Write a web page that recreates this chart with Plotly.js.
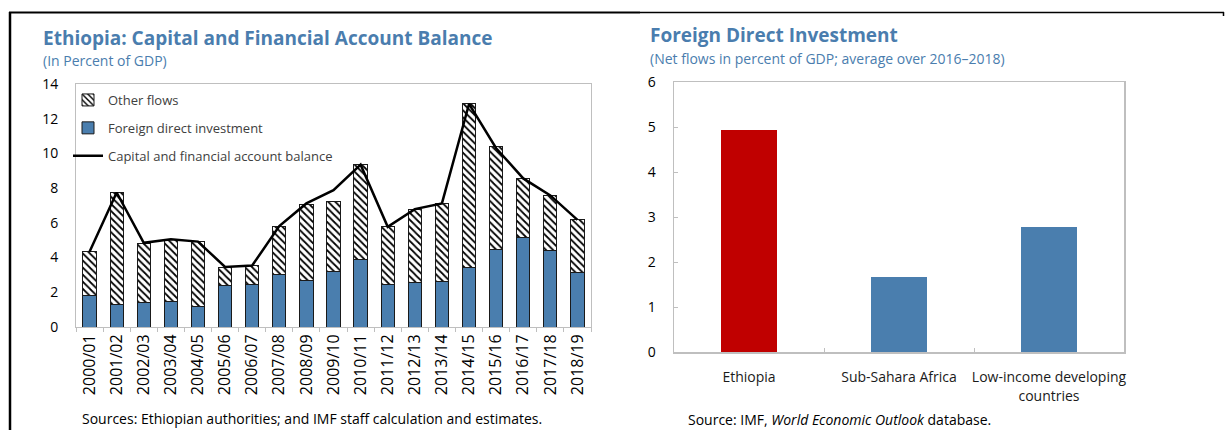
<!DOCTYPE html>
<html>
<head>
<meta charset="utf-8">
<script src="https://cdn.plot.ly/plotly-3.0.1.min.js"></script>
<style>
html,body{margin:0;padding:0;background:#fff;}
#chart{width:1225px;height:430px;}
</style>
</head>
<body>
<div id="chart"></div>
<script>
// ---- Left chart data ----
var years = ["2000/01","2001/02","2002/03","2003/04","2004/05","2005/06","2006/07","2007/08","2008/09","2009/10","2010/11","2011/12","2012/13","2013/14","2014/15","2015/16","2016/17","2017/18","2018/19"];
var fdi = [1.83,1.27,1.40,1.48,1.19,2.38,2.44,3.00,2.67,3.17,3.87,2.46,2.58,2.63,3.42,4.46,5.17,4.42,3.15];
var otherFlows = [2.50,6.48,3.43,3.54,3.71,1.06,1.08,2.81,4.41,4.08,5.50,3.31,4.21,4.47,9.43,5.94,3.39,3.16,3.02];
var balance = [4.33,7.75,4.85,5.06,4.92,3.46,3.54,5.81,7.12,7.88,9.35,5.77,6.79,7.12,12.85,10.30,8.56,7.58,6.17];

// ---- Right chart data ----
var regions = ["Ethiopia","Sub-Sahara Africa","Low-income developing<br>countries"];
var fdiAvg = [4.93,1.66,2.78];

var W = 1225, H = 430;
function px(x){return x/W;}
function py(y){return 1-y/H;}

var FONT = "Open Sans, Noto Sans, sans-serif";
var BLUE = "#4A7EAE";
var TITLE = "#4A7DAE";
var GRAYLINE = "#BFBFBF";

var traces = [
  {type:"bar", x:years, y:fdi, name:"Foreign direct investment", xaxis:"x", yaxis:"y",
   marker:{color:BLUE, line:{color:"#1a1a1a", width:1}}, legendgroup:"b", legendrank:2, width:0.49, hoverinfo:"y"},
  {type:"bar", x:years, y:otherFlows, name:"Other flows", xaxis:"x", yaxis:"y",
   marker:{color:"#ffffff", line:{color:"#1a1a1a", width:1},
           pattern:{shape:"\\", fgcolor:"#000000", bgcolor:"#ffffff", size:5, solidity:0.35}},
   legendgroup:"a", legendrank:1, width:0.49, hoverinfo:"y"},
  {type:"scatter", mode:"lines", x:years, y:balance, name:"Capital and financial account balance",
   xaxis:"x", yaxis:"y", line:{color:"#000000", width:2.5}, legendgroup:"c", legendrank:3},
  {type:"bar", x:regions, y:fdiAvg, xaxis:"x2", yaxis:"y2", showlegend:false, width:0.373,
   marker:{color:["#C00000", BLUE, BLUE]}}
];

var layout = {
  width:W, height:H,
  margin:{l:0,r:0,t:0,b:0},
  paper_bgcolor:"#ffffff", plot_bgcolor:"#ffffff",
  font:{family:FONT, size:14, color:"#000000"},
  barmode:"stack",
  bargap:0.5,
  showlegend:true,
  legend:{x:px(68), y:py(85), xanchor:"left", yanchor:"top", traceorder:"grouped",
          tracegroupgap:8, font:{size:13, color:"#404040", family:FONT}, bgcolor:"rgba(0,0,0,0)"},
  xaxis:{domain:[px(76), px(591)], anchor:"y", type:"category", tickangle:-90,
         showline:true, linecolor:GRAYLINE, linewidth:1, mirror:true,
         ticks:"outside", tickson:"boundaries", ticklen:4, tickcolor:GRAYLINE,
         tickfont:{size:16, color:"#000"}, showgrid:false, zeroline:false, fixedrange:true},
  yaxis:{domain:[py(327), py(84)], anchor:"x", range:[0,14], dtick:2,
         showline:true, linecolor:GRAYLINE, linewidth:1, mirror:true,
         ticks:"", showgrid:false, zeroline:false, ticklabelstandoff:14,
         tickfont:{size:14, color:"#000"}, fixedrange:true},
  xaxis2:{domain:[px(674), px(1124)], anchor:"y2", type:"category", tickangle:0,
          showline:true, linecolor:GRAYLINE, linewidth:1.5, mirror:true,
          ticks:"inside", tickson:"boundaries", ticklen:4, tickcolor:GRAYLINE,
          ticklabelstandoff:12,
          tickfont:{size:14, color:"#1a1a1a"}, showgrid:false, zeroline:false, fixedrange:true},
  yaxis2:{domain:[py(352), py(82)], anchor:"x2", range:[0,6], dtick:1,
          showline:true, linecolor:GRAYLINE, linewidth:1.5, mirror:true,
          ticks:"inside", ticklen:4, tickcolor:GRAYLINE, showgrid:false, zeroline:false,
          ticklabelstandoff:14, tickfont:{size:14, color:"#000"}, fixedrange:true},
  annotations:[
    {xref:"paper", yref:"paper", x:px(41), y:py(38), xanchor:"left", yanchor:"middle", showarrow:false,
     text:"<b>Ethiopia: Capital and Financial Account Balance</b>", font:{size:19, color:TITLE, family:FONT}},
    {xref:"paper", yref:"paper", x:px(41), y:py(61), xanchor:"left", yanchor:"middle", showarrow:false,
     text:"(In Percent of GDP)", font:{size:14, color:TITLE, family:FONT}},
    {xref:"paper", yref:"paper", x:px(80), y:py(418), xanchor:"left", yanchor:"middle", showarrow:false,
     text:"Sources: Ethiopian authorities; and IMF staff calculation and estimates.", font:{size:14, color:"#000", family:FONT}},
    {xref:"paper", yref:"paper", x:px(648), y:py(35), xanchor:"left", yanchor:"middle", showarrow:false,
     text:"<b>Foreign Direct Investment</b>", font:{size:19, color:TITLE, family:FONT}},
    {xref:"paper", yref:"paper", x:px(648), y:py(59), xanchor:"left", yanchor:"middle", showarrow:false,
     text:"(Net flows in percent of GDP; average over 2016–2018)", font:{size:14, color:TITLE, family:FONT}},
    {xref:"paper", yref:"paper", x:px(686), y:py(419), xanchor:"left", yanchor:"middle", showarrow:false,
     text:"Source: IMF, <i>World Economic Outlook</i> database.", font:{size:14, color:"#000", family:FONT}}
  ],
  shapes:[
    {type:"line", xref:"paper", yref:"paper", x0:px(9), x1:px(640), y0:py(12.5), y1:py(12.5), line:{color:"#000", width:2}},
    {type:"line", xref:"paper", yref:"paper", x0:px(640), x1:px(1224), y0:py(12.5), y1:py(12.5), line:{color:"#000", width:1.5}},
    {type:"line", xref:"paper", yref:"paper", x0:px(10), x1:px(10), y0:py(12), y1:py(430), line:{color:"#000", width:2.5}},
    {type:"line", xref:"paper", yref:"paper", x0:px(1223.5), x1:px(1223.5), y0:py(12), y1:py(16), line:{color:"#000", width:1.5}}
  ]
};

Plotly.newPlot("chart", traces, layout, {displayModeBar:false, staticPlot:true});
</script>
</body>
</html>
